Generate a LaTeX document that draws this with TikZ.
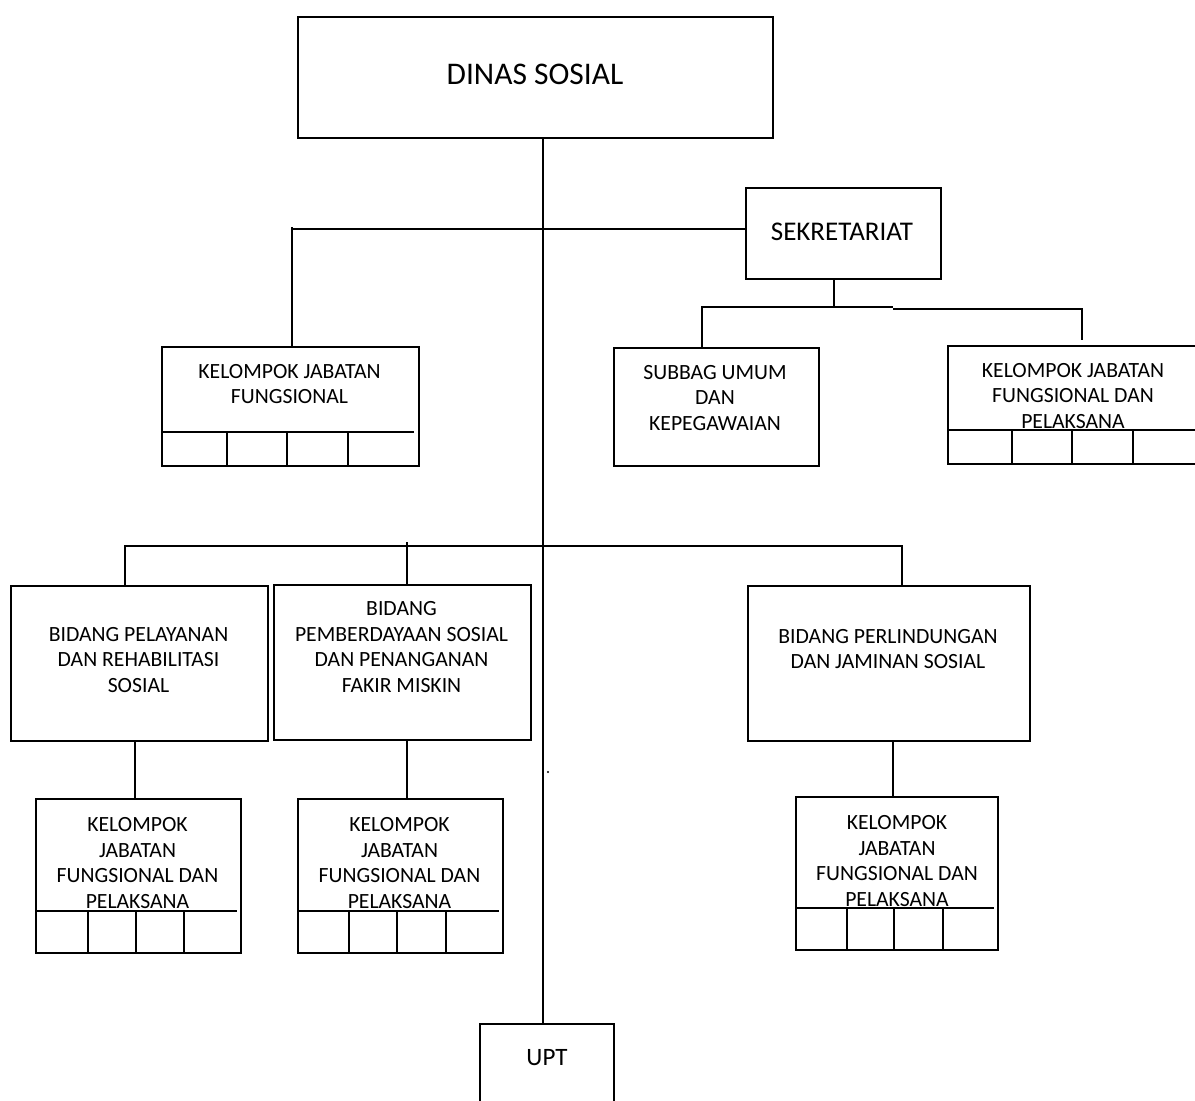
\documentclass[tikz,border=0pt]{standalone}
\usepackage{fontspec}
\setmainfont{Carlito}
\begin{document}
\begin{tikzpicture}[x=1pt,y=-1pt,line width=1.8pt,
  box/.style={draw,line width=1.8pt,inner sep=0pt,anchor=north west},
  txt/.style={align=center,inner sep=0pt,font=\fontsize{21.7}{25.5}\selectfont},
  conn/.style={line width=1.8pt}]
\useasboundingbox (0,0) rectangle (1195,1101);
\clip (0,0) rectangle (1195,1101);
\fill[white] (0,0) rectangle (1195,1101);

% boxes
\node[box,minimum width=475pt,minimum height=121pt] (dinas) at (297,16) {};
\node[box,minimum width=195pt,minimum height=91pt] (sek) at (745,187) {};
\node[box,minimum width=257pt,minimum height=119pt] (kjf) at (161,346) {};
\node[box,minimum width=205pt,minimum height=118pt] (subbag) at (613,347) {};
\node[box,minimum width=256pt,minimum height=118pt] (kjfp) at (947,345) {};
\node[box,minimum width=257pt,minimum height=155pt] (b1) at (10,585) {};
\node[box,minimum width=257pt,minimum height=155pt] (b2) at (273,584) {};
\node[box,minimum width=282pt,minimum height=155pt] (b3) at (747,585) {};
\node[box,minimum width=205pt,minimum height=154pt] (s1) at (35,798) {};
\node[box,minimum width=205pt,minimum height=154pt] (s2) at (297,798) {};
\node[box,minimum width=202pt,minimum height=153pt] (s3) at (795,796) {};
\node[box,minimum width=134pt,minimum height=100pt] (upt) at (479,1023) {};

% texts
\node[inner sep=0pt,font=\fontsize{31.5}{37}\selectfont] (dinasT) at (535,74) {DINAS SOSIAL};
\node[inner sep=0pt,font=\fontsize{27}{32}\selectfont] (sekT) at (842,232) {SEKRETARIAT};
\node[txt] (kjfT) at (289.5,384) {KELOMPOK JABATAN\\FUNGSIONAL};
\node[txt] (subbagT) at (715,398) {SUBBAG UMUM\\DAN\\KEPEGAWAIAN};
\node[txt] (kjfpT) at (1073,396) {KELOMPOK JABATAN\\FUNGSIONAL DAN\\PELAKSANA};
\node[txt] (b1T) at (138.5,660) {BIDANG PELAYANAN\\DAN REHABILITASI\\SOSIAL};
\node[txt] (b2T) at (401.5,647) {BIDANG\\PEMBERDAYAAN SOSIAL\\DAN PENANGANAN\\FAKIR MISKIN};
\node[txt] (b3T) at (888,649) {BIDANG PERLINDUNGAN\\DAN JAMINAN SOSIAL};
\node[txt] (s1T) at (137.5,863) {KELOMPOK\\JABATAN\\FUNGSIONAL DAN\\PELAKSANA};
\node[txt] (s2T) at (399.5,863) {KELOMPOK\\JABATAN\\FUNGSIONAL DAN\\PELAKSANA};
\node[txt] (s3T) at (897,861) {KELOMPOK\\JABATAN\\FUNGSIONAL DAN\\PELAKSANA};
\node[inner sep=0pt,font=\fontsize{25}{30}\selectfont] (uptT) at (547,1058) {UPT};

% cells
\draw[conn] (kjf.west |- 0,432) -- (414,432);
\foreach \x in {227,287,348} \draw[conn] (\x,432) -- (\x,0 |- kjf.south);
\draw[conn] (kjfp.west |- 0,430) -- (1199,430);
\foreach \x in {1012,1072,1133} \draw[conn] (\x,430) -- (\x,0 |- kjfp.south);
\draw[conn] (s1.west |- 0,911) -- (237,911);
\foreach \x in {88,136,184} \draw[conn] (\x,911) -- (\x,0 |- s1.south);
\draw[conn] (s2.west |- 0,911) -- (499,911);
\foreach \x in {349,397,446} \draw[conn] (\x,911) -- (\x,0 |- s2.south);
\draw[conn] (s3.west |- 0,908) -- (994,908);
\foreach \x in {847,894,943} \draw[conn] (\x,908) -- (\x,0 |- s3.south);

% connectors
\coordinate (secJ) at (834,307);
\coordinate (secL) at (702,307);
\coordinate (secM) at (893,307);
\coordinate (secN) at (893,309);
\coordinate (secR) at (1082,309);
\coordinate (kjfTop) at (292,227);
\coordinate (busL) at (125,546);
\coordinate (busR) at (902,546);
\coordinate (busTick) at (407,542);

\draw[conn] (543,0 |- dinas.south) -- (543,0 |- upt.north);
\draw[conn] (sek.west |- 0,229) -- (292,229);
\draw[conn] (kjfTop) -- (kjfTop |- kjf.north);
\draw[conn] (secJ |- sek.south) -- (secJ);
\draw[conn] (secL |- subbag.north) -- (secL) -- (secM);
\draw[conn] (secN) -- (secR) -- (1082,340);
\draw[conn] (busL |- b1.north) -- (busL) -- (busR) -- (busR |- b3.north);
\draw[conn] (busTick) -- (busTick |- b2.north);
\draw[conn] (135,0 |- b1.south) -- (135,0 |- s1.north);
\draw[conn] (407,0 |- b2.south) -- (407,0 |- s2.north);
\draw[conn] (893,0 |- b3.south) -- (893,0 |- s3.north);
\fill (548,772) circle (1.2pt);
\end{tikzpicture}
\end{document}
